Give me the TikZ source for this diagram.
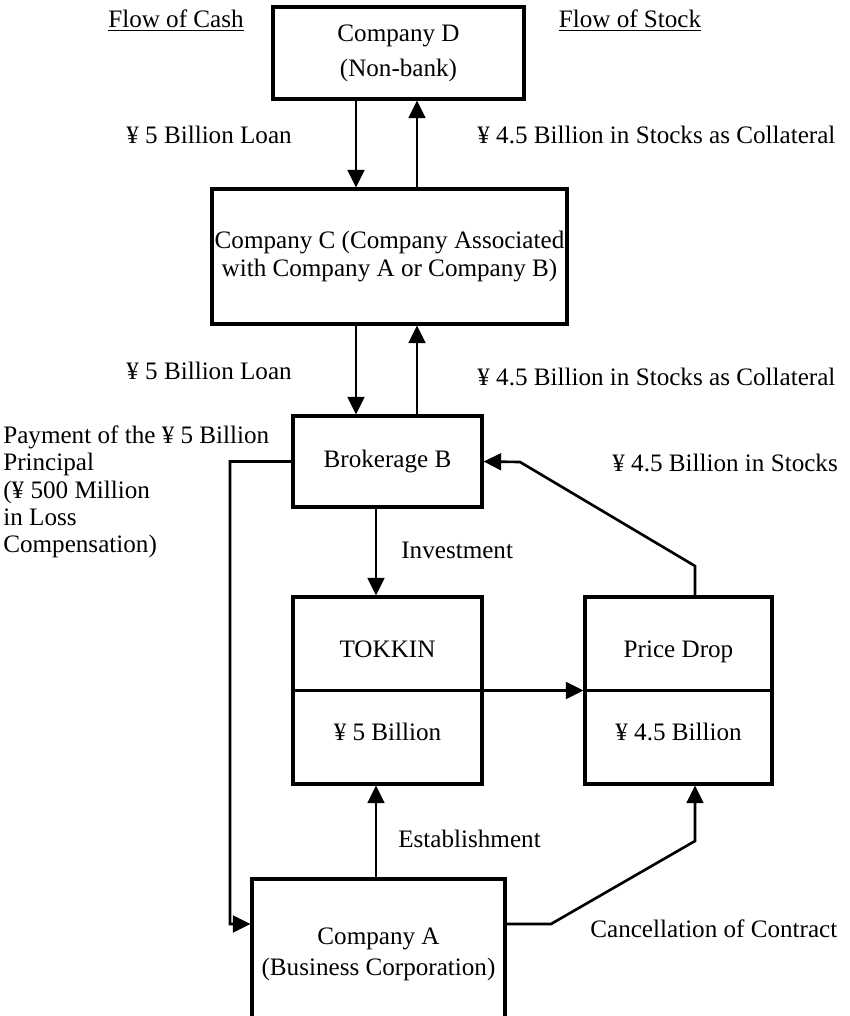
\documentclass[tikz,border=0pt]{standalone}
\usepackage{fontspec}
\setmainfont{Liberation Serif}
\usetikzlibrary{arrows.meta}

\begin{document}
\begin{tikzpicture}[
        x=0.02cm, y=-0.02cm,
        every node/.style={font=\fontsize{14.3}{15.5}\selectfont},
        firm/.style={rectangle, draw, line width=1.8pt, align=center, inner sep=1pt},
        line/.style={draw, line width=1.5pt, -{Triangle[length=10pt,width=9.5pt]}},
        lbl/.style={inner sep=0pt, anchor=west, align=left}
    ]
    \useasboundingbox (0,0) rectangle (849,1016);

    % x positions of the vertical connectors
    \coordinate (cashx) at (356,0);
    \coordinate (stockx) at (417,0);
    \coordinate (midx) at (376,0);
    \coordinate (dropx) at (695,0);

    \node [firm, minimum width=5.02cm, minimum height=1.84cm] (compD) at (398.5,53) {Company D\\[4.5pt](Non-bank)};
    \node [firm, minimum width=7.1cm, minimum height=2.7cm] (compC) at (389.5,256.5) {Company C (Company Associated\\with Company A or Company B)};
    \node [firm, minimum width=3.78cm, minimum height=1.82cm] (brokB) at (387.5,461.5) {Brokerage B};
    \node [firm, minimum width=3.78cm, minimum height=3.74cm] (tokkin) at (387.5,690.5) {TOKKIN\\[31.6pt]¥ 5 Billion};
    \node [firm, minimum width=3.74cm, minimum height=3.74cm] (pdrop) at (678.5,690.5) {Price Drop\\[31.6pt]¥ 4.5 Billion};
    \node [firm, minimum width=5.06cm, minimum height=3.02cm] (compA) at (378.5,954.5) {Company A\\[2pt](Business Corporation)};

    \draw [line] (compD.south -| cashx) -- (compC.north -| cashx);
    \draw [line] (compC.north -| stockx) -- (compD.south -| stockx);
    \draw [line] (compC.south -| cashx) -- (brokB.north -| cashx);
    \draw [line] (brokB.north -| stockx) -- (compC.south -| stockx);
    \draw [line] (brokB.south -| midx) -- (tokkin.north -| midx);
    \draw [line] (compA.north -| midx) -- (tokkin.south -| midx);
    \draw [line, line width=1.8pt] (tokkin.west) -- (pdrop.west);
    \draw [line width=1.8pt] (pdrop.west) -- (pdrop.east);
    \draw [line] (brokB.west) -| (230,924) -- ([yshift=0.61cm]compA.west);
    \draw [line] (pdrop.north -| dropx) -- (695,566) -- (520,462) -- (brokB.east);
    \draw [line] ([yshift=0.61cm]compA.east) -- (551,924) -- (695,841) -- (pdrop.south -| dropx);

    % Labels
    \node (flowcash) at (176,21) {\underline{Flow of Cash}};
    \node (flowstock) at (630,21) {\underline{Flow of Stock}};
    \node [lbl] (loan1) at (126,135) {¥ 5 Billion Loan};
    \node [lbl] (coll1) at (477,135) {¥ 4.5 Billion in Stocks as Collateral};
    \node [lbl] (loan2) at (126,371) {¥ 5 Billion Loan};
    \node [lbl] (coll2) at (477,377) {¥ 4.5 Billion in Stocks as Collateral};
    \node [lbl] (payment) at (3,492) {Payment of the ¥ 5 Billion\\Principal\\(¥ 500 Million\\in Loss\\Compensation)};
    \node [lbl] (stocks) at (612,463) {¥ 4.5 Billion in Stocks};
    \node [lbl] (invest) at (401,550) {Investment};
    \node [lbl] (establ) at (398,839) {Establishment};
    \node [lbl] (cancel) at (590,929) {Cancellation of Contract};
\end{tikzpicture}
\end{document}
